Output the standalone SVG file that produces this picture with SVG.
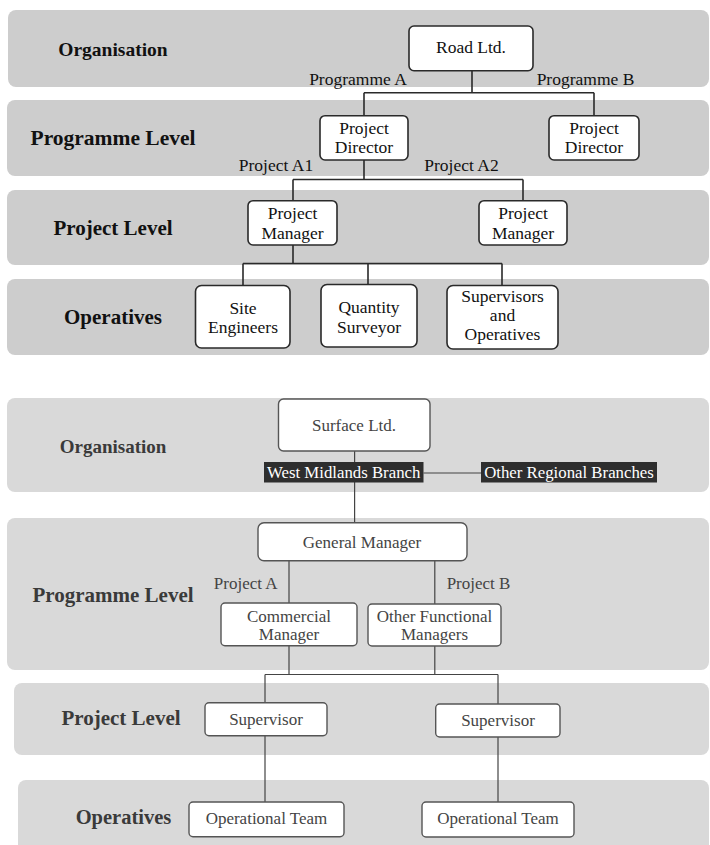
<svg xmlns="http://www.w3.org/2000/svg" width="710" height="845" viewBox="0 0 710 845">
<style>
.bandA{fill:#cdcdcd}
.bandB{fill:#d9d9d9}
.lvl{font-family:"Liberation Serif","Times New Roman",serif;font-weight:bold;text-anchor:middle;fill:#111}
.lvl2{font-family:"Liberation Serif","Times New Roman",serif;font-weight:bold;text-anchor:middle;fill:#3a3a3a}
.box{fill:#fff;stroke:#2a2a2a;stroke-width:1.6}
.box2{fill:#fff;stroke:#555;stroke-width:1.4}
.t{font-family:"Liberation Serif","Times New Roman",serif;font-size:17.5px;text-anchor:middle;fill:#111}
.t2{font-family:"Liberation Serif","Times New Roman",serif;font-size:17px;text-anchor:middle;fill:#444}
.lbl{font-family:"Liberation Serif","Times New Roman",serif;font-size:17.5px;text-anchor:middle;fill:#111}
.lbl2{font-family:"Liberation Serif","Times New Roman",serif;font-size:17px;text-anchor:middle;fill:#444}
.wl{font-family:"Liberation Serif","Times New Roman",serif;font-size:16.8px;text-anchor:middle;fill:#fff}
.c1{fill:none;stroke:#2a2a2a;stroke-width:1.6}
.c2{fill:none;stroke:#444;stroke-width:1.2}
</style>

<!-- Bands top diagram -->
<g id="bands-top">
<rect class="bandA" x="8" y="10" width="701" height="77" rx="8"/>
<rect class="bandA" x="7" y="100" width="702" height="76" rx="8"/>
<rect class="bandA" x="7" y="190" width="702" height="75" rx="8"/>
<rect class="bandA" x="7" y="279" width="702" height="76" rx="8"/>
<text class="lvl" x="113" y="56" font-size="19.5">Organisation</text>
<text class="lvl" x="113" y="145" font-size="21.5">Programme Level</text>
<text class="lvl" x="113" y="235" font-size="21">Project Level</text>
<text class="lvl" x="113" y="324" font-size="21">Operatives</text>
</g>

<!-- Bands bottom diagram -->
<g id="bands-bottom">
<rect class="bandB" x="7" y="398" width="702" height="94" rx="8"/>
<rect class="bandB" x="7" y="518" width="702" height="152" rx="8"/>
<rect class="bandB" x="14" y="683" width="695" height="72" rx="8"/>
<rect class="bandB" x="18" y="780" width="691" height="80" rx="8"/>
<text class="lvl2" x="113" y="453" font-size="19">Organisation</text>
<text class="lvl2" x="113" y="602" font-size="21">Programme Level</text>
<text class="lvl2" x="121" y="725" font-size="21">Project Level</text>
<text class="lvl2" x="123.5" y="824" font-size="20.5">Operatives</text>
</g>

<!-- Connectors -->
<g id="connectors">
<path class="c1" d="M472 70.7V92.7M364 92.7H594M364 92.7V116M594 92.7V116"/>
<path class="c1" d="M364 160V179.5M293 179.5H523M293 179.5V200.7M523 179.5V200.7"/>
<path class="c1" d="M293 245V263.5M243 263.5H502M243 263.5V285.5M368 263.5V284.5M502 263.5V285.5"/>
<path class="c2" d="M354.6 451V522.7"/>
<path class="c2" d="M423.5 473H481"/>
<path class="c2" d="M289 560.7V603M434.8 560.7V604"/>
<path class="c2" d="M289 645.7V674.5M434.8 646V674.5M265 674.5H498M265 674.5V702.7M498 674.5V704"/>
<path class="c2" d="M265 735.7V802M498 737V802"/>
</g>

<!-- Connector labels top -->
<g id="labels-top">
<text class="lbl" x="358" y="85">Programme A</text>
<text class="lbl" x="585.5" y="85">Programme B</text>
<text class="lbl" x="276" y="171">Project A1</text>
<text class="lbl" x="461.5" y="171">Project A2</text>
</g>

<!-- Top nodes -->
<g id="road-ltd"><rect class="box" x="409" y="26" width="124" height="44.7" rx="5"/><text class="t" x="471" y="53" font-size="18">Road Ltd.</text></g>
<g id="pd-a"><rect class="box" x="320" y="115.7" width="88" height="44.3" rx="5"/><text class="t" x="364" y="134">Project</text><text class="t" x="364" y="153">Director</text></g>
<g id="pd-b"><rect class="box" x="549" y="115.7" width="90" height="44.3" rx="5"/><text class="t" x="594" y="134">Project</text><text class="t" x="594" y="153">Director</text></g>
<g id="pm-a1"><rect class="box" x="248" y="200.7" width="89" height="44.3" rx="5"/><text class="t" x="292.5" y="219">Project</text><text class="t" x="292.5" y="239">Manager</text></g>
<g id="pm-a2"><rect class="box" x="479" y="200.7" width="88" height="44.3" rx="5"/><text class="t" x="523" y="219">Project</text><text class="t" x="523" y="239">Manager</text></g>
<g id="site-eng"><rect class="box" x="195.5" y="285.5" width="94.5" height="62.5" rx="6"/><text class="t" x="243" y="314">Site</text><text class="t" x="243" y="333">Engineers</text></g>
<g id="qs"><rect class="box" x="321" y="284.5" width="96" height="62.5" rx="6"/><text class="t" x="369" y="313">Quantity</text><text class="t" x="369" y="333">Surveyor</text></g>
<g id="sup-ops"><rect class="box" x="447" y="285.5" width="111" height="63.5" rx="6"/><text class="t" x="502.5" y="302" font-size="16.5">Supervisors</text><text class="t" x="502.5" y="321" font-size="16.5">and</text><text class="t" x="502.5" y="340" font-size="16.5">Operatives</text></g>

<!-- Bottom nodes -->
<g id="surface-ltd"><rect class="box2" x="278.5" y="399" width="151.5" height="52" rx="5"/><text class="t2" x="354" y="431" font-size="18">Surface Ltd.</text></g>
<g id="west-midlands"><rect x="264" y="462" width="159.5" height="20.5" fill="#2e2e2e"/><text class="wl" x="343.7" y="478">West Midlands Branch</text></g>
<g id="other-branches"><rect x="481" y="462" width="176" height="20.5" fill="#2e2e2e"/><text class="wl" x="569" y="478">Other Regional Branches</text></g>
<g id="labels-bottom">
<text class="lbl2" x="245.7" y="589">Project A</text>
<text class="lbl2" x="478.5" y="589">Project B</text>
</g>
<g id="general-manager"><rect class="box2" x="258" y="522.7" width="209" height="38" rx="6"/><text class="t2" x="362" y="547.5">General Manager</text></g>
<g id="commercial-manager"><rect class="box2" x="221" y="603" width="136" height="42.7" rx="4"/><text class="t2" x="289" y="621.5">Commercial</text><text class="t2" x="289" y="639.5">Manager</text></g>
<g id="other-managers"><rect class="box2" x="368" y="604" width="133" height="42" rx="4"/><text class="t2" x="434.5" y="621.5">Other Functional</text><text class="t2" x="434.5" y="639.5">Managers</text></g>
<g id="supervisor-1"><rect class="box2" x="205" y="702.7" width="122" height="33" rx="4"/><text class="t2" x="266" y="725">Supervisor</text></g>
<g id="supervisor-2"><rect class="box2" x="435.7" y="704" width="124.3" height="33" rx="4"/><text class="t2" x="498" y="726">Supervisor</text></g>
<g id="op-team-1"><rect class="box2" x="189" y="802" width="155" height="34.7" rx="4"/><text class="t2" x="266.5" y="824">Operational Team</text></g>
<g id="op-team-2"><rect class="box2" x="422" y="802" width="152" height="35" rx="4"/><text class="t2" x="498" y="824">Operational Team</text></g>
</svg>
